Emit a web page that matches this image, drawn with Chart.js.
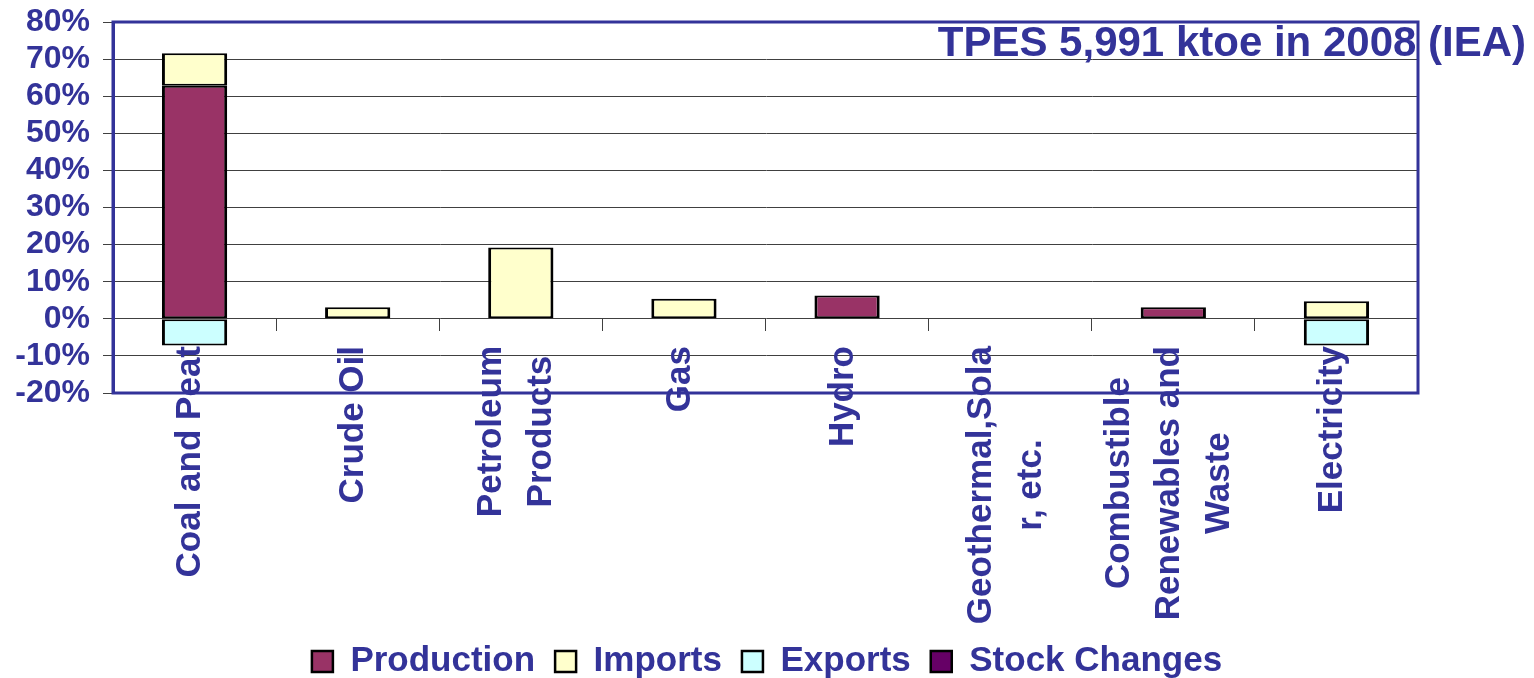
<!DOCTYPE html>
<html>
<head>
<meta charset="utf-8">
<script src="https://cdn.jsdelivr.net/npm/chart.js@4.4.1/dist/chart.umd.min.js"></script>
<style>
  html, body { margin: 0; padding: 0; background: #fff; }
  #wrap { width: 1534px; height: 678px; }
</style>
</head>
<body>
<div id="wrap"><canvas id="myChart" width="1534" height="678"></canvas></div>
<script>
// Chart data (percent of TPES)
const categories = [
  ['Coal and Peat'],
  ['Crude Oil'],
  ['Petroleum', 'Products'],
  ['Gas'],
  ['Hydro'],
  ['Geothermal,Sola', 'r, etc.'],
  ['Combustible', 'Renewables and', 'Waste'],
  ['Electricity']
];
const production   = [62.8, 0, 0, 0, 6.3, 0, 3.1, 0];
const imports      = [8.8, 3.1, 19.2, 5.4, 0, 0, 0, 4.7];
const exports      = [-7.2, 0, 0, 0, 0, 0, 0, -7.2];
const stockChanges = [0, 0, 0, 0, 0, 0, 0, 0];
const yTicks = [-20, -10, 0, 10, 20, 30, 40, 50, 60, 70, 80];
const titleText = 'TPES 5,991 ktoe in 2008 (IEA)';

const BLUE = '#333399';
const FONT = "'Liberation Sans', Arial, sans-serif";

// Rotated category labels, lines centred, block ending near the plot bottom
const xLabelsPlugin = {
  id: 'xLabels',
  afterDraw(chart) {
    const ctx = chart.ctx;
    const xs = chart.scales.x;
    ctx.save();
    ctx.font = 'bold 35px ' + FONT;
    ctx.fillStyle = BLUE;
    ctx.textAlign = 'center';
    ctx.textBaseline = 'middle';
    categories.forEach((lines, i) => {
      const x = xs.getPixelForValue(i) - 4;
      const w = Math.max(...lines.map(l => ctx.measureText(l).width));
      ctx.save();
      ctx.translate(x, 346);
      ctx.rotate(-Math.PI / 2);
      lines.forEach((l, j) => {
        ctx.fillText(l, -w / 2, (j - (lines.length - 1) / 2) * 50);
      });
      ctx.restore();
    });
    ctx.restore();
  }
};

// Blue frame around plot area and the title text
const frameTitlePlugin = {
  id: 'frameTitle',
  afterLayout(chart) {
    // push the legend a little lower, like the original
    const lg = chart.legend;
    if (lg) { lg.top += 11; lg.bottom += 11; }
  },
  afterDraw(chart) {
    const {ctx, chartArea: a} = chart;
    ctx.save();
    ctx.strokeStyle = BLUE;
    ctx.lineWidth = 3;
    ctx.strokeRect(a.left, a.top, a.right - a.left, a.bottom - a.top);
    ctx.font = 'bold 42px ' + FONT;
    ctx.fillStyle = BLUE;
    ctx.textAlign = 'right';
    ctx.textBaseline = 'alphabetic';
    ctx.fillText(titleText, 1526, 56);
    ctx.restore();
  }
};

const ctx = document.getElementById('myChart').getContext('2d');
const barStyle = {
  borderColor: '#000000',
  borderWidth: {left: 3, right: 3, top: 2, bottom: 2},
  borderSkipped: false,
  barPercentage: 0.4,
  categoryPercentage: 1.0
};

const myChart = new Chart(ctx, {
  type: 'bar',
  data: {
    labels: categories,
    datasets: [
      {label: 'Production', data: production, backgroundColor: '#993366', ...barStyle},
      {label: 'Imports', data: imports, backgroundColor: '#FFFFCC', ...barStyle},
      {label: 'Exports', data: exports, backgroundColor: '#CCFFFF', ...barStyle},
      {label: 'Stock Changes', data: stockChanges, backgroundColor: '#660066', ...barStyle}
    ]
  },
  options: {
    responsive: false,
    animation: false,
    layout: {padding: {left: 0, right: 0, top: 22, bottom: 0}},
    plugins: {
      legend: {
        position: 'bottom',
        labels: {
          color: BLUE,
          font: {family: FONT, size: 35, weight: 'bold'},
          boxWidth: 21,
          boxHeight: 21,
          padding: 20
        }
      },
      tooltip: {enabled: false}
    },
    scales: {
      x: {
        stacked: true,
        position: {y: 0},
        ticks: {display: false},
        grid: {drawOnChartArea: false, color: '#404040', tickLength: 12, offset: true},
        border: {display: false}
      },
      // empty band below the plot that holds the rotated labels
      x2: {
        type: 'linear',
        axis: 'x',
        position: 'bottom',
        afterFit: scale => { scale.height = 220; },
        ticks: {display: false},
        grid: {display: false},
        border: {display: false}
      },
      y: {
        stacked: true,
        min: -20,
        max: 80,
        afterBuildTicks: scale => { scale.ticks = yTicks.map(v => ({value: v})); },
        afterFit: scale => {
          scale.width = 113;
          scale.paddingTop = 0;
          scale.paddingBottom = 0;
        },
        ticks: {
          color: BLUE,
          font: {family: FONT, size: 32, weight: 'bold'},
          padding: 13,
          autoSkip: false,
          callback: v => v + '%'
        },
        grid: {color: '#404040', tickLength: 10},
        border: {color: BLUE, width: 3}
      },
      y2: {
        position: 'right',
        afterFit: scale => { scale.width = 116; },
        ticks: {display: false},
        grid: {display: false},
        border: {display: false}
      }
    }
  },
  plugins: [xLabelsPlugin, frameTitlePlugin]
});
</script>
</body>
</html>
